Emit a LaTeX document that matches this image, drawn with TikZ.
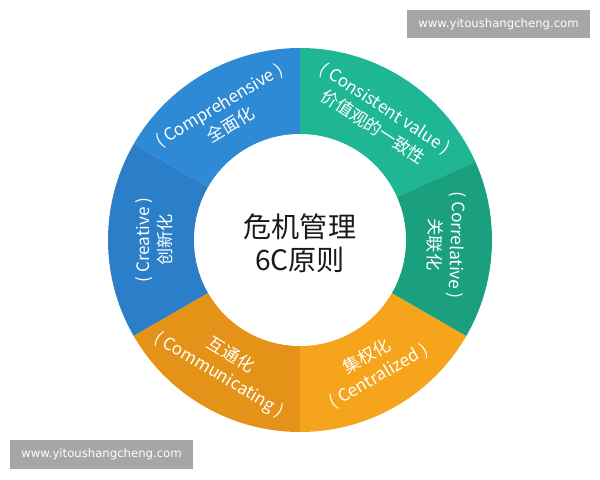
\documentclass[tikz,border=0pt]{standalone}
\usepackage{fontspec}
\setmainfont{Noto Sans CJK SC}
\newfontfamily\urlfont{DejaVu Sans}
\definecolor{blueA}{RGB}{47,138,213}
\definecolor{blueB}{RGB}{42,127,200}
\definecolor{tealA}{RGB}{30,182,148}
\definecolor{tealB}{RGB}{27,160,127}
\definecolor{orangeA}{RGB}{245,164,27}
\definecolor{orangeB}{RGB}{228,146,24}
\definecolor{markgray}{RGB}{166,166,166}
\definecolor{inkc}{RGB}{26,26,26}

\begin{document}
\begin{tikzpicture}[line cap=round,
  seglabel/.style={text=white, align=center, inner sep=0pt,
    font=\fontsize{12.2}{16}\selectfont},
  urlbox/.style={fill=markgray, text=white, inner sep=0pt,
    minimum width=4.575cm, minimum height=0.7cm,
    font=\urlfont\fontsize{8.3}{9}\selectfont}]
  \def\Ro{4.8}    % outer ring radius
  \def\Ri{2.65}   % hub radius
  \def\Rt{3.65}   % label radius

  \useasboundingbox (-7.5,-6) rectangle (7.5,6);

  % ring segments
  \foreach \a/\b/\c in {24/90/tealA, 90/150/blueA, 150/210/blueB,
                        210/270/orangeB, 270/330/orangeA, 330/384/tealB}{
    \fill[\c] (0,0) -- (\a:\Ro) arc[start angle=\a, end angle=\b, radius=\Ro] -- cycle;
  }
  % hub
  \fill[white] (0,0) circle (\Ri);
  \node[inkc, align=center, font=\fontsize{20}{23}\selectfont] (hub) at (0,-0.08)
    {危机管理\\6C原则};

  % segment labels
  \node[seglabel, rotate=31]  (comp) at (121:\Rt) {( Comprehensive )\\全面化};
  \node[seglabel, rotate=-33] (cons) at (57:\Rt)  {( Consistent value )\\价值观的一致性};
  \node[seglabel, rotate=-92] (corr) at (-2:\Rt)  {( Correlative )\\关联化};
  \node[seglabel, rotate=30]  (cent) at (-60:\Rt) {集权化\\( Centralized )};
  \node[seglabel, rotate=-31] (comm) at (-121:\Rt) {互通化\\( Communicating )};
  \node[seglabel, rotate=90]  (crea) at (180:\Rt) {( Creative )\\创新化};

  % watermarks
  \node[urlbox] (urltop) at (4.9625,5.4)     {www.yitoushangcheng.com};
  \node[urlbox, minimum height=0.725cm] (urlbot) at (-4.9625,-5.3625) {www.yitoushangcheng.com};
\end{tikzpicture}
\end{document}
